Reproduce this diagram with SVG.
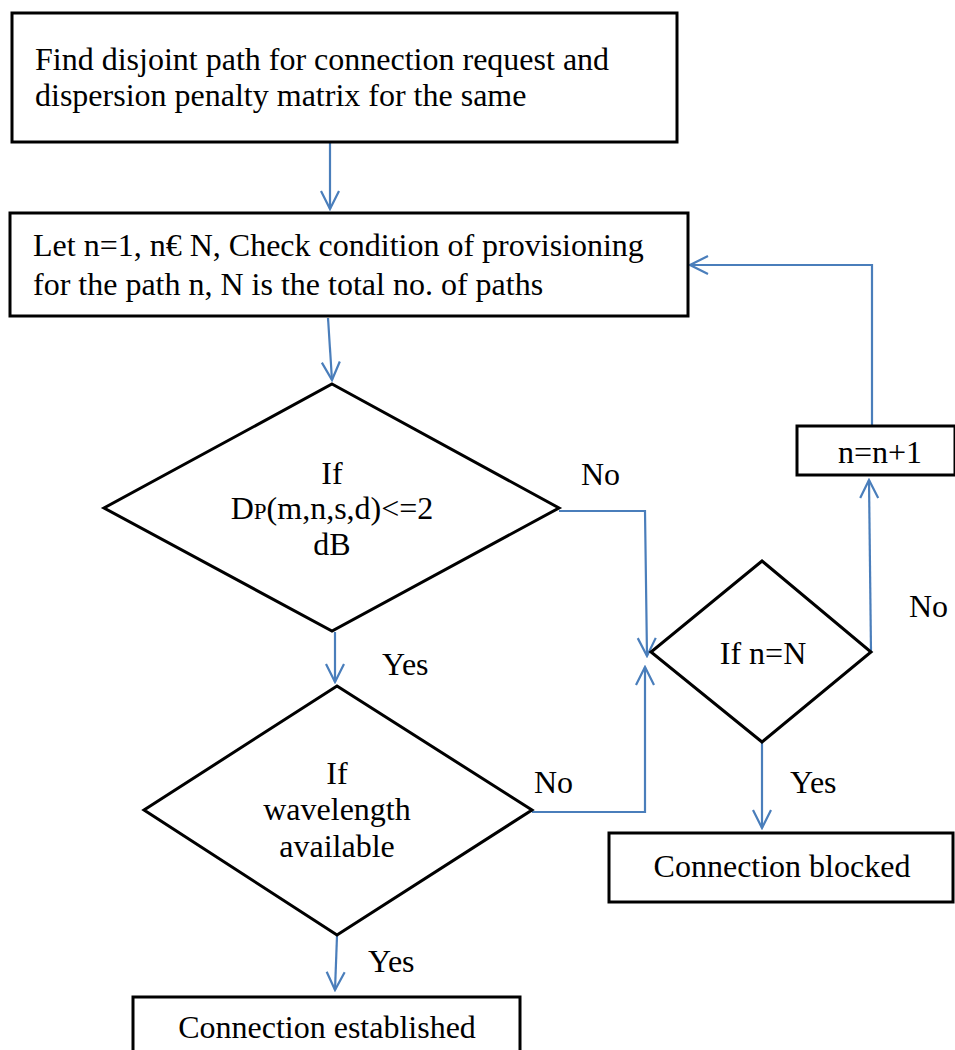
<svg xmlns="http://www.w3.org/2000/svg" width="955" height="1050" viewBox="0 0 955 1050">
<style>
.box{fill:#fff;stroke:#000;stroke-width:3}
.t{font-family:"Liberation Serif","Times New Roman",serif;font-size:32px;fill:#000}
.c{text-anchor:middle}
.ln{fill:none;stroke:#4a7ebb;stroke-width:2.2}
</style>
<defs>
<marker id="ah" viewBox="-20 -11 22 22" markerWidth="22" markerHeight="22" refX="0" refY="0" markerUnits="userSpaceOnUse" orient="auto">
<path d="M-18,-9 L0,0 L-18,9" fill="none" stroke="#4a7ebb" stroke-width="2.2"/>
</marker>
</defs>
<rect width="955" height="1050" fill="#fff"/>
<g id="connectors">
<line class="ln" x1="330" y1="142" x2="330" y2="209" marker-end="url(#ah)"/>
<line class="ln" x1="328" y1="318" x2="332" y2="380" marker-end="url(#ah)"/>
<line class="ln" x1="335" y1="632" x2="335" y2="682" marker-end="url(#ah)"/>
<line class="ln" x1="337" y1="936" x2="335" y2="990" marker-end="url(#ah)"/>
<polyline class="ln" points="559,511 645,511 647,656" marker-end="url(#ah)"/>
<polyline class="ln" points="532,812 645,812 645,667" marker-end="url(#ah)"/>
<line class="ln" x1="762" y1="743" x2="762" y2="828" marker-end="url(#ah)"/>
<line class="ln" x1="871" y1="652" x2="869" y2="480" marker-end="url(#ah)"/>
<polyline class="ln" points="872,426 872,265 690,265" marker-end="url(#ah)"/>
</g>
<g id="n1">
<rect class="box" x="12" y="13" width="665" height="129"/>
<text class="t" x="35" y="70">Find disjoint path for connection request and</text>
<text class="t" x="35" y="106">dispersion penalty matrix for the same</text>
</g>
<g id="n2">
<rect class="box" x="10" y="213" width="678" height="103"/>
<text class="t" x="33" y="256">Let n=1, n€ N, Check condition of provisioning</text>
<text class="t" x="33" y="295">for the path n, N is the total no. of paths</text>
</g>
<g id="n3">
<polygon class="box" points="332,384 559,508 332,631 104,508"/>
<text class="t c" x="332" y="484">If</text>
<text class="t c" x="332" y="519">D<tspan font-size="23">P</tspan>(m,n,s,d)&lt;=2</text>
<text class="t c" x="332" y="555">dB</text>
</g>
<g id="n4">
<polygon class="box" points="337,686 532,810 337,935 144,810"/>
<text class="t c" x="337" y="784">If</text>
<text class="t c" x="337" y="820">wavelength</text>
<text class="t c" x="337" y="857">available</text>
</g>
<g id="n5">
<polygon class="box" points="762,561 871,652 762,742 651,652"/>
<text class="t c" x="763" y="664">If n=N</text>
</g>
<g id="n6">
<rect class="box" x="797" y="426" width="158" height="49"/>
<text class="t c" x="880" y="463" font-size="25">n=n+1</text>
</g>
<g id="n7">
<rect class="box" x="609" y="833" width="344" height="69"/>
<text class="t c" x="782" y="877">Connection blocked</text>
</g>
<g id="n8">
<rect class="box" x="133" y="997" width="387" height="60"/>
<text class="t c" x="327" y="1038">Connection established</text>
</g>
<g id="labels">
<text class="t" x="581" y="485">No</text>
<text class="t" x="382" y="675">Yes</text>
<text class="t" x="534" y="793">No</text>
<text class="t" x="368" y="972">Yes</text>
<text class="t" x="790" y="793">Yes</text>
<text class="t" x="909" y="617">No</text>
</g>
</svg>
